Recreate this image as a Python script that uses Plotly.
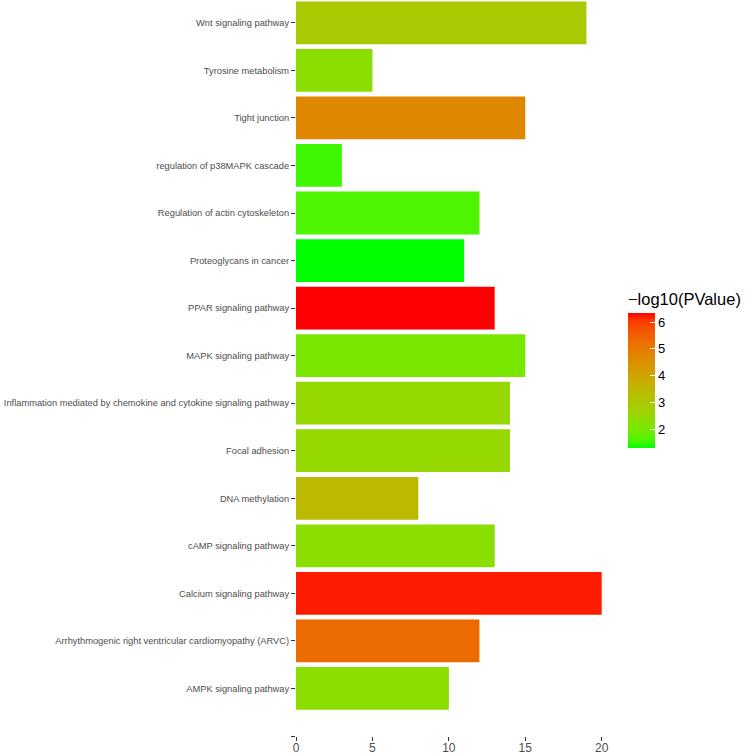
import numpy as np
import plotly.graph_objects as go

# Data (bottom-to-top order as drawn)
terms = [
    " ",
    "AMPK signaling pathway",
    "Arrhythmogenic right ventricular cardiomyopathy (ARVC)",
    "Calcium signaling pathway",
    "cAMP signaling pathway",
    "DNA methylation",
    "Focal adhesion",
    "Inflammation mediated by chemokine and cytokine signaling pathway",
    "MAPK signaling pathway",
    "PPAR signaling pathway",
    "Proteoglycans in cancer",
    "Regulation of actin cytoskeleton",
    "regulation of p38MAPK cascade",
    "Tight junction",
    "Tyrosine metabolism",
    "Wnt signaling pathway",
]
counts = [0, 10, 12, 20, 13, 8, 14, 14, 15, 13, 11, 12, 3, 15, 5, 19]
neglog10p = [1.29, 2.3, 5.3, 6.2, 2.3, 3.4, 2.5, 2.5, 2.05, 6.34, 1.29, 1.6, 1.5, 4.7, 2.3, 2.95]

x_ticks = [0, 5, 10, 15, 20]
cb_ticks = [2, 3, 4, 5, 6]

# ggplot-like green->red gradient interpolated in CIE Lab
def srgb_to_lab(rgb):
    c = np.array(rgb, float) / 255.0
    c = np.where(c <= 0.04045, c / 12.92, ((c + 0.055) / 1.055) ** 2.4)
    M = np.array([[0.4124564, 0.3575761, 0.1804375],
                  [0.2126729, 0.7151522, 0.0721750],
                  [0.0193339, 0.1191920, 0.9503041]])
    xyz = M @ c
    wp = np.array([0.95047, 1.0, 1.08883])
    t = xyz / wp
    f = np.where(t > (6 / 29) ** 3, np.cbrt(t), t / (3 * (6 / 29) ** 2) + 4 / 29)
    return np.array([116 * f[1] - 16, 500 * (f[0] - f[1]), 200 * (f[1] - f[2])])

def lab_to_srgb(lab):
    L, a, b = lab
    fy = (L + 16) / 116
    fx = fy + a / 500
    fz = fy - b / 200
    f = np.array([fx, fy, fz])
    t = np.where(f > 6 / 29, f ** 3, 3 * (6 / 29) ** 2 * (f - 4 / 29))
    xyz = t * np.array([0.95047, 1.0, 1.08883])
    Minv = np.array([[3.2404542, -1.5371385, -0.4985314],
                     [-0.9692660, 1.8760108, 0.0415560],
                     [0.0556434, -0.2040259, 1.0572252]])
    c = Minv @ xyz
    c = np.clip(c, 0, 1)
    c = np.where(c <= 0.0031308, 12.92 * c, 1.055 * c ** (1 / 2.4) - 0.055)
    c = np.clip(np.round(c * 255), 0, 255).astype(int)
    return "rgb(%d,%d,%d)" % tuple(c)

lo = srgb_to_lab((0, 255, 0))
hi = srgb_to_lab((255, 0, 0))
colorscale = [[float(s), lab_to_srgb(lo + (hi - lo) * s)] for s in np.linspace(0, 1, 21)]

font_family = "Liberation Sans, Arial, Helvetica, sans-serif"

fig = go.Figure(
    go.Bar(
        x=counts,
        y=terms,
        orientation="h",
        marker=dict(
            color=neglog10p,
            colorscale=colorscale,
            cmin=min(neglog10p),
            cmax=max(neglog10p),
            line=dict(width=0),
            colorbar=dict(
                title=dict(text="\u2212log10(PValue)", side="top",
                           font=dict(size=16.5, color="black", family=font_family)),
                thickness=27,
                len=158,
                lenmode="pixels",
                x=1.034,
                xanchor="left",
                y=1 - 448 / 736,
                yanchor="bottom",
                tickvals=cb_ticks,
                ticktext=[str(v) for v in cb_ticks],
                ticks="inside",
                ticklen=5,
                tickcolor="white",
                tickfont=dict(size=13, color="black", family=font_family),
                outlinewidth=0,
                xpad=0,
                ypad=0,
            ),
        ),
        width=0.9,
        hoverinfo="x+y",
    )
)

fig.update_layout(
    width=747,
    height=755,
    margin=dict(l=296, r=130, t=0, b=19, pad=0, autoexpand=False),
    plot_bgcolor="white",
    paper_bgcolor="white",
    showlegend=False,
    font=dict(family=font_family),
)

fig.update_xaxes(
    range=[0, 21],
    tickvals=x_ticks,
    ticktext=[str(v) for v in x_ticks],
    ticks="outside",
    ticklen=4,
    tickwidth=1,
    tickcolor="#333333",
    tickfont=dict(size=12, color="#4D4D4D"),
    ticklabelstandoff=-3,
    showgrid=False,
    zeroline=False,
    showline=False,
    automargin=False,
)

fig.update_yaxes(
    type="category",
    categoryorder="array",
    categoryarray=terms,
    range=[0, 15.48],
    ticks="outside",
    ticklen=4,
    tickwidth=1,
    tickcolor="#333333",
    tickfont=dict(size=9.3, color="#4D4D4D"),
    showgrid=False,
    zeroline=False,
    showline=False,
    automargin=False,
)

fig.write_html(
    "out.html",
    config={"displayModeBar": False},
    post_script="document.body.style.margin='0';document.body.style.overflow='hidden';",
)
